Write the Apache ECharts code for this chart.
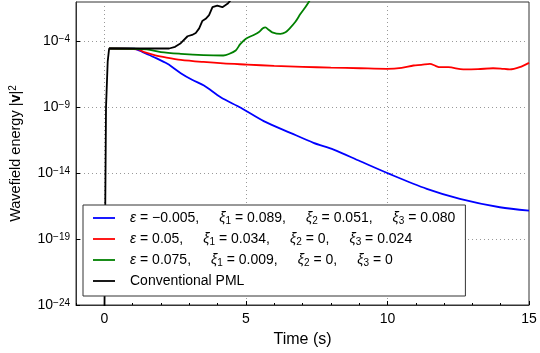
<!DOCTYPE html>
<html>
<head>
<meta charset="utf-8">
<script src="https://cdn.jsdelivr.net/npm/echarts@6/dist/echarts.min.js"></script>
<style>
  html, body { margin: 0; padding: 0; background: #ffffff; }
  #chart { width: 540px; height: 353px; }
</style>
</head>
<body>
<div id="chart"></div>
<script>
const blueT   = [0.17, 1.06, 1.4, 1.76, 2.23, 2.7, 3.1, 3.52, 4.11, 4.82, 5.63, 6.57, 7.39, 8.1, 9.04, 10.09, 11.39, 12.56, 13.97, 15]
const blueExp = [-4.53, -4.55, -4.85, -5.19, -5.69, -6.4, -6.9, -7.34, -8.23, -9.03, -10.04, -10.93, -11.69, -12.2, -13.09, -14.07, -15.18, -15.94, -16.58, -16.83]

const redT   = [0.17, 1.2, 1.41, 1.8, 2.2, 2.7, 3.5, 4.2, 5.05, 6, 7, 8, 9.04, 9.98, 10.5, 10.92, 11.2, 11.5, 11.7, 11.86, 12.15, 12.68, 13.2, 13.73, 14.0, 14.32, 14.67, 15]
const redExp = [-4.53, -4.6, -4.81, -5.05, -5.22, -5.39, -5.55, -5.66, -5.75, -5.85, -5.92, -5.98, -6.03, -6.07, -6.0, -5.82, -5.78, -5.69, -5.85, -5.95, -5.95, -6.12, -6.1, -6.03, -6.05, -6.12, -5.95, -5.62]

const greenT   = [0.17, 1.5, 2.0, 2.7, 3.5, 4.2, 4.4, 4.64, 4.8, 4.99, 5.28, 5.45, 5.6, 5.69, 5.8, 5.93, 6.22, 6.4, 6.55, 6.75, 6.93, 7.1, 7.25]
const greenExp = [-4.53, -4.6, -4.8, -4.93, -5.03, -5.06, -4.95, -4.68, -4.2, -3.8, -3.5, -3.3, -3.0, -2.93, -3.1, -3.3, -3.42, -3.3, -3.0, -2.5, -1.9, -1.4, -0.9]

const blackT   = [0, 0.06, 0.12, 0.17, 1.0, 2.29, 2.5, 2.7, 2.94, 3.1, 3.23, 3.35, 3.46, 3.58, 3.7, 3.82, 3.99, 4.17, 4.35, 4.45]
const blackExp = [-26, -9, -5.5, -4.53, -4.53, -4.53, -4.4, -4.13, -3.6, -3.5, -3.35, -3.0, -2.45, -2.28, -2.0, -1.39, -1.27, -1.39, -1.14, -0.9]

const seriesNames = ['blue', 'red', 'green', 'pml']
const legendText = {
  blue: '{g|ε} = −0.005,{sp| }{g|ξ}{s|1} = 0.089,{sp| }{g|ξ}{s|2} = 0.051,{sp| }{g|ξ}{s|3} = 0.080',
  red: '{g|ε} = 0.05,{sp| }{g|ξ}{s|1} = 0.034,{sp| }{g|ξ}{s|2} = 0,{sp| }{g|ξ}{s|3} = 0.024',
  green: '{g|ε} = 0.075,{sp| }{g|ξ}{s|1} = 0.009,{sp| }{g|ξ}{s|2} = 0,{sp| }{g|ξ}{s|3} = 0',
  pml: 'Conventional PML'
}
const xMajor = [0, 5, 10, 15]
const yMajor = [1e-24, 1e-19, 1e-14, 1e-9, 1e-4]

const FONT = 'Liberation Sans, Arial, sans-serif'

const toPairs = (t, e) => t.map((x, i) => [x, Math.pow(10, e[i])])

const chart = echarts.init(document.getElementById('chart'))

const lineSeries = (name, t, e, color, smooth) => ({
  name,
  type: 'line',
  data: toPairs(t, e),
  symbol: 'none',
  smooth,
  lineStyle: { color, width: 1.8 },
  itemStyle: { color },
  z: 3
})

const option = {
  animation: false,
  backgroundColor: '#ffffff',
  grid: {
    left: 75, right: 11, top: 2, bottom: 48,
    show: true, borderColor: '#333333', borderWidth: 1, backgroundColor: 'transparent'
  },
  legend: {
    orient: 'vertical',
    left: 83, top: 205,
    data: seriesNames,
    icon: 'rect',
    itemWidth: 22, itemHeight: 1.8,
    itemGap: 5,
    padding: [5, 10, 7, 10],
    backgroundColor: '#ffffff',
    borderColor: '#333333', borderWidth: 1, borderRadius: 0,
    formatter: name => '{sp0| }' + legendText[name],
    textStyle: {
      fontFamily: FONT, fontSize: 14, color: '#000000', lineHeight: 16,
      rich: {
        g: { fontStyle: 'italic', fontSize: 14, fontFamily: FONT },
        s: { fontSize: 10, verticalAlign: 'bottom', fontFamily: FONT },
        sp: { width: 20 },
        sp0: { width: 10 }
      }
    },
    z: 10
  },
  xAxis: [
    {
      type: 'value', min: -1, max: 15,
      name: 'Time (s)', nameLocation: 'middle', nameGap: 27,
      nameTextStyle: { fontFamily: FONT, fontSize: 16, color: '#000' },
      axisLine: { show: true, onZero: false, lineStyle: { color: '#333', width: 1 } },
      axisTick: { show: true, inside: true, length: 4, customValues: xMajor, lineStyle: { color: '#000' } },
      axisLabel: { customValues: xMajor, fontFamily: FONT, fontSize: 14, color: '#000', margin: 7 },
      splitLine: { show: true, lineStyle: { color: '#999', type: [1, 3], width: 1 } }
    },
    {
      type: 'value', min: -1, max: 15, interval: 1, position: 'bottom',
      axisLine: { show: false },
      axisTick: { show: true, inside: true, length: 2, lineStyle: { color: '#000' } },
      axisLabel: { show: false },
      splitLine: { show: false }
    }
  ],
  yAxis: {
    type: 'log', logBase: 10, min: 1e-24, max: 1e-1,
    name: 'Wavefield energy |{b|v}|{sup|2}', nameLocation: 'middle', nameGap: 53,
    nameTextStyle: {
      fontFamily: FONT, fontSize: 14.5, color: '#000',
      rich: {
        b: { fontWeight: 'bold', fontSize: 14.5, fontFamily: FONT },
        sup: { fontSize: 10, verticalAlign: 'top', fontFamily: FONT }
      }
    },
    axisLine: { show: true, onZero: false, lineStyle: { color: '#333', width: 1 } },
    axisTick: { show: true, inside: true, length: 4, customValues: yMajor, lineStyle: { color: '#000' } },
    axisLabel: {
      customValues: yMajor,
      margin: 6,
      formatter: v => {
        const e = v > 0 ? Math.round(Math.log10(v)) : Math.round(v)
        return '{b|10}{s|−' + Math.abs(e) + '}'
      },
      rich: {
        b: { fontFamily: FONT, fontSize: 14, color: '#000' },
        s: { fontFamily: FONT, fontSize: 10, color: '#000', verticalAlign: 'top' }
      }
    },
    splitLine: { show: true, lineStyle: { color: '#999', type: [1, 3], width: 1 } }
  },
  series: [
    lineSeries('blue', blueT, blueExp, '#0000ff', 0.3),
    lineSeries('red', redT, redExp, '#ff0000', 0.3),
    lineSeries('green', greenT, greenExp, '#008000', 0.3),
    lineSeries('pml', blackT, blackExp, '#000000', false)
  ]
}

chart.setOption(option)
</script>
</body>
</html>
